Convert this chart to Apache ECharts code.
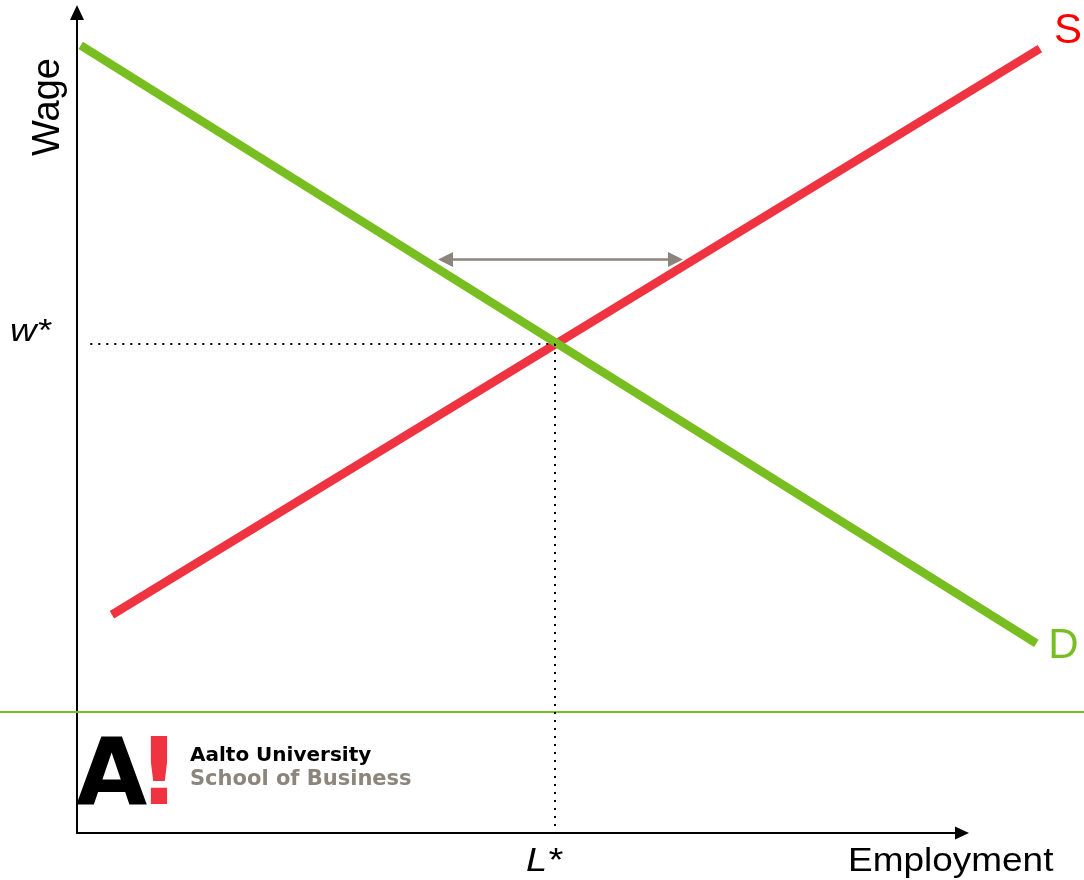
<!DOCTYPE html>
<html>
<head>
<meta charset="utf-8">
<title>Labour market: supply and demand</title>
<script src="https://cdn.jsdelivr.net/npm/echarts@6/dist/echarts.min.js"></script>
<style>
  html, body { margin: 0; padding: 0; background: #ffffff; }
  #chart { width: 1084px; height: 880px; }
</style>
</head>
<body>
<div id="chart"></div>
<script>
// Curve end points in axis units (0..100 on both axes; curves run past the arrow)
const demandCurve = [[0.42, 96.0], [108.4, 23.1]];
const supplyCurve = [[3.95, 26.6], [108.8, 95.6]];
// Equilibrium employment and wage
const equilibrium = [54.0, 59.6];
const wageGuideStartX = 1.5;
// Gap between demand and supply at a wage above equilibrium
const gapWage = 69.9;
const gapRange = [41.64, 67.63];
// Texts
const curveNames = ['S', 'D'];
const axisNames = ['Employment', 'Wage'];
const equilibriumNames = ['L*', 'w*'];
const brandNames = ['A', '!', 'Aalto University', 'School of Business'];

const RED = '#ef3340';
const GREEN = '#78be20';
const GREY = '#8b857c';

const chart = echarts.init(document.getElementById('chart'), null, { renderer: 'canvas' });

const PLOT_LEFT = 77, PLOT_TOP = 12.5, PLOT_W = 885, PLOT_H = 820.5;
const X_MAX = 100, X_MAX_WIDE = 112;

const hiddenAxisParts = {
  axisTick: { show: false },
  axisLabel: { show: false },
  splitLine: { show: false }
};

chart.setOption({
  animation: false,
  backgroundColor: '#ffffff',
  grid: [
    // drawn axes
    { left: PLOT_LEFT, top: PLOT_TOP, width: PLOT_W, height: PLOT_H, outerBoundsMode: 'none' },
    // same scale, wider area so the curves can run past the axis arrow
    { left: PLOT_LEFT, top: PLOT_TOP, width: PLOT_W * X_MAX_WIDE / X_MAX, height: PLOT_H, outerBoundsMode: 'none' }
  ],
  xAxis: [
    Object.assign({
      gridIndex: 0, type: 'value', min: 0, max: X_MAX,
      axisLine: {
        show: true, symbol: ['none', 'triangle'], symbolSize: [13, 14],
        lineStyle: { color: '#000', width: 2 }
      }
    }, hiddenAxisParts),
    { gridIndex: 1, type: 'value', min: 0, max: X_MAX_WIDE, show: false }
  ],
  yAxis: [
    Object.assign({
      gridIndex: 0, type: 'value', min: 0, max: 100,
      axisLine: {
        show: true, symbol: ['none', 'triangle'], symbolSize: [14, 15],
        lineStyle: { color: '#000', width: 2 }
      }
    }, hiddenAxisParts),
    { gridIndex: 1, type: 'value', min: 0, max: 100, show: false }
  ],
  series: [
    {
      name: curveNames[0], type: 'line', data: supplyCurve,
      xAxisIndex: 1, yAxisIndex: 1,
      symbol: 'none', clip: false, silent: true, z: 3,
      lineStyle: { color: RED, width: 8.5, cap: 'butt' }
    },
    {
      name: curveNames[1], type: 'line', data: demandCurve,
      xAxisIndex: 1, yAxisIndex: 1,
      symbol: 'none', clip: false, silent: true, z: 4,
      lineStyle: { color: GREEN, width: 8.5, cap: 'butt' }
    },
    {
      name: 'guides', type: 'lines', coordinateSystem: 'cartesian2d',
      xAxisIndex: 0, yAxisIndex: 0,
      silent: true, z: 5,
      lineStyle: { color: '#000', width: 2, type: [2, 6], opacity: 1 },
      data: [
        { coords: [[wageGuideStartX, equilibrium[1]], [equilibrium[0], equilibrium[1]]] },
        { coords: [[equilibrium[0], equilibrium[1]], [equilibrium[0], 0]] }
      ]
    },
    {
      name: 'gap', type: 'lines', coordinateSystem: 'cartesian2d',
      xAxisIndex: 0, yAxisIndex: 0,
      silent: true, z: 5,
      symbol: ['triangle', 'triangle'], symbolSize: [15, 15],
      lineStyle: { color: GREY, width: 2.5, opacity: 1 },
      data: [{ coords: [[gapRange[0], gapWage], [gapRange[1], gapWage]] }]
    }
  ]
});

// Labels placed from the data positions
const eqPx = chart.convertToPixel({ gridIndex: 0 }, equilibrium);
const sEnd = chart.convertToPixel({ gridIndex: 1 }, supplyCurve[1]);
const dEnd = chart.convertToPixel({ gridIndex: 1 }, demandCurve[1]);

const txt = (text, x, y, font, fill, extra) => Object.assign({
  type: 'text', x: x, y: y, silent: true, z: 10,
  style: { text: text, font: font, fill: fill, align: 'left', verticalAlign: 'middle' }
}, extra || {});

const SANS = '"Liberation Sans", Arial, sans-serif';

chart.setOption({
  graphic: [
    // horizontal rule above the logo
    {
      type: 'line', silent: true, z: 1,
      shape: { x1: 0, y1: 712, x2: 1084, y2: 712 },
      style: { stroke: GREEN, lineWidth: 2 }
    },
    txt(curveNames[0], sEnd[0] + 14, sEnd[1] - 17, '42px ' + SANS, '#ff0000'),
    txt(curveNames[1], dEnd[0] + 12, dEnd[1] + 3, '42px ' + SANS, GREEN),
    txt(axisNames[0], 848, 862, '33px ' + SANS, '#000', { scaleX: 1.12 }),
    {
      type: 'text', x: 49, y: 107, rotation: Math.PI / 2, silent: true, z: 10,
      style: { text: axisNames[1], font: '38px ' + SANS, fill: '#000', align: 'center', verticalAlign: 'middle' }
    },
    txt(equilibriumNames[0], eqPx[0] - 29, 862, 'italic 33px ' + SANS, '#000', { scaleX: 1.15 }),
    txt(equilibriumNames[1], 10, eqPx[1] - 12, 'italic 32px ' + SANS, '#000', { scaleX: 1.15 }),
    // logo
    txt(brandNames[0], 76, 780, 'bold 92px "DejaVu Sans", sans-serif', '#000'),
    {
      type: 'text', x: 159, y: 780, silent: true, z: 10,
      style: { text: brandNames[1], font: 'bold 92px "DejaVu Sans", sans-serif', fill: RED, align: 'center', verticalAlign: 'middle' }
    },
    txt(brandNames[2], 190, 756, 'bold 20px "DejaVu Sans", sans-serif', '#000'),
    txt(brandNames[3], 190, 780, 'bold 21px "DejaVu Sans", sans-serif', GREY)
  ]
});
</script>
</body>
</html>
